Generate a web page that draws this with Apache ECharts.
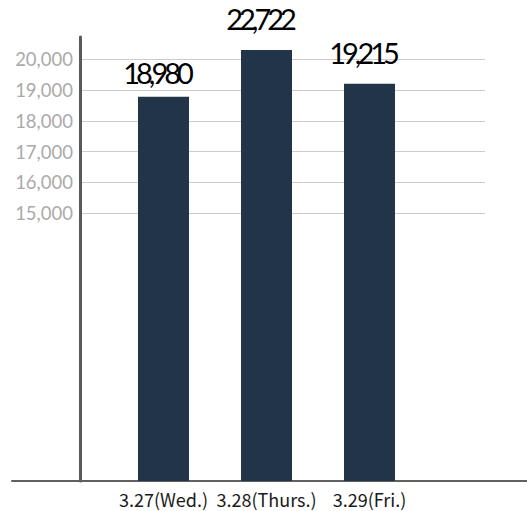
<!DOCTYPE html>
<html><head><meta charset="utf-8">
<script src="https://cdn.jsdelivr.net/npm/echarts@6/dist/echarts.min.js"></script>
<style>
html,body{margin:0;padding:0;background:#fff}#c{width:527px;height:511px}
#c svg text[style*="29px"]{letter-spacing:-4px}
</style>
</head><body><div id="c"></div>
<script>
const categories = ['3.27(Wed.)', '3.28(Thurs.)', '3.29(Fri.)'];
const labelValues = [18980, 22722, 19215];      // printed numbers above bars
const barHeights = [18780, 20300, 19200];       // bar tops as read against the axis
const yTickValues = [15000, 16000, 17000, 18000, 19000, 20000];
const yMin = 6300, yMax = 20720;
const labelGap = [10, 17, 17];

const chart = echarts.init(document.getElementById('c'), null, {renderer: 'svg'});
const fmt = v => v.toLocaleString('en-US');
chart.setOption({
  animation: false,
  grid: [
    {left: 80, right: 42, top: 37, bottom: 30},
    {left: 112, right: 106, top: 37, bottom: 30},
    {left: 12, right: 0, top: 37, bottom: 30}
  ],
  xAxis: [
    {gridIndex: 0, type: 'value', show: false},
    {gridIndex: 1, type: 'category', data: categories,
     axisLine: {show: false}, axisTick: {show: false},
     axisLabel: {interval: 0, hideOverlap: false, color: '#1a1a1a', fontSize: 18, margin: 9, fontFamily: '"Noto Sans CJK JP","Noto Sans",sans-serif'}},
    {gridIndex: 2, type: 'value', axisLine: {show: true, lineStyle: {color: '#606060', width: 2}},
     axisTick: {show: false}, axisLabel: {show: false}, splitLine: {show: false}}
  ],
  yAxis: [
    {gridIndex: 0, type: 'value', min: yMin, max: yMax,
     axisLine: {show: true, lineStyle: {color: '#5a5a5a', width: 3}},
     axisTick: {show: false, customValues: yTickValues},
     axisLabel: {customValues: yTickValues, formatter: v => fmt(v), color: '#aaa', fontSize: 18.5, margin: 7, padding: [5, 0, 0, 0], fontFamily: 'Lato'},
     splitLine: {show: true, lineStyle: {color: '#ccc', width: 1}}},
    {gridIndex: 1, type: 'value', min: yMin, max: yMax, show: false},
    {gridIndex: 2, type: 'value', show: false}
  ],
  series: [{
    type: 'bar', xAxisIndex: 1, yAxisIndex: 1, barWidth: 51,
    data: barHeights.map((v, i) => ({value: v, label: {distance: labelGap[i]}})),
    itemStyle: {color: '#223448'},
    label: {show: true, position: 'top', offset: [-7, 0], color: '#000', fontSize: 29,
      fontFamily: 'Lato',
      formatter: p => fmt(labelValues[p.dataIndex])}
  }]
});
</script></body></html>
